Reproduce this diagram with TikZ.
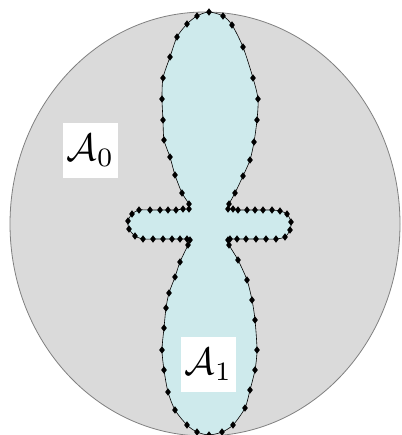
\documentclass[tikz,border=0pt]{standalone}
\usetikzlibrary{plotmarks}
\definecolor{discgray}{RGB}{218,218,218}
\definecolor{discedge}{RGB}{128,128,128}
\definecolor{blobfill}{RGB}{206,234,236}
\tikzset{
  labelbox/.style={fill=white, minimum width=55pt, minimum height=55pt, inner sep=0pt},
  blob/.style={fill=blobfill, draw=black, line width=0.6pt}
}
\begin{document}
\begin{tikzpicture}[x=1pt,y=-1pt]
\useasboundingbox (0,0) rectangle (401,435);
\fill[white] (0,0) rectangle (401,435);
\draw[fill=discgray, draw=discedge, line width=0.8pt] (205,224) ellipse [x radius=195, y radius=212];
\draw[blob] plot[smooth cycle, tension=0.45, mark=diamond*, mark size=3.2pt, mark options={fill=black}] coordinates {
(209,12) (223,16) (232,25) (243,47) (253,78) (258,99) (257,120) (254,142) (250,160) (243,176) (235,193) (229,204) (228,209)
(233,209) (238,210) (247,210) (255,210) (263,210) (272,210) (280,211) (287,214) (291,222) (290,230) (285,237) (276,239) (266,239) (256,239) (246,239) (237,239) (230,239) (228,240)
(229,245) (238,260) (247,280) (252,300) (255,320) (257,350) (255,370) (250,390) (245,408) (233,425) (222,432)
(209,435) (197,432) (187,425) (175,410) (168,392) (164,370) (162,350) (164,328) (166,308) (169,293) (175,277) (180,262) (188,245)
(190,240) (187,239) (180,239) (172,239) (163,239) (153,239) (143,239) (135,236) (129,229) (128,221) (132,214) (139,210) (150,210) (160,210) (168,210) (176,210) (183,209) (189,209)
(189,204) (182,193) (175,175) (170,157) (164,140) (163,120) (162,99) (163,78) (170,57) (177,37) (187,24) (197,16)
};
\node[labelbox] (a0) at (90.5,150.5) {\scalebox{3.8}{$\mathcal{A}_0$}};
\node[labelbox] (a1) at (208.5,364.5) {\scalebox{3.8}{$\mathcal{A}_1$}};
\end{tikzpicture}
\end{document}
